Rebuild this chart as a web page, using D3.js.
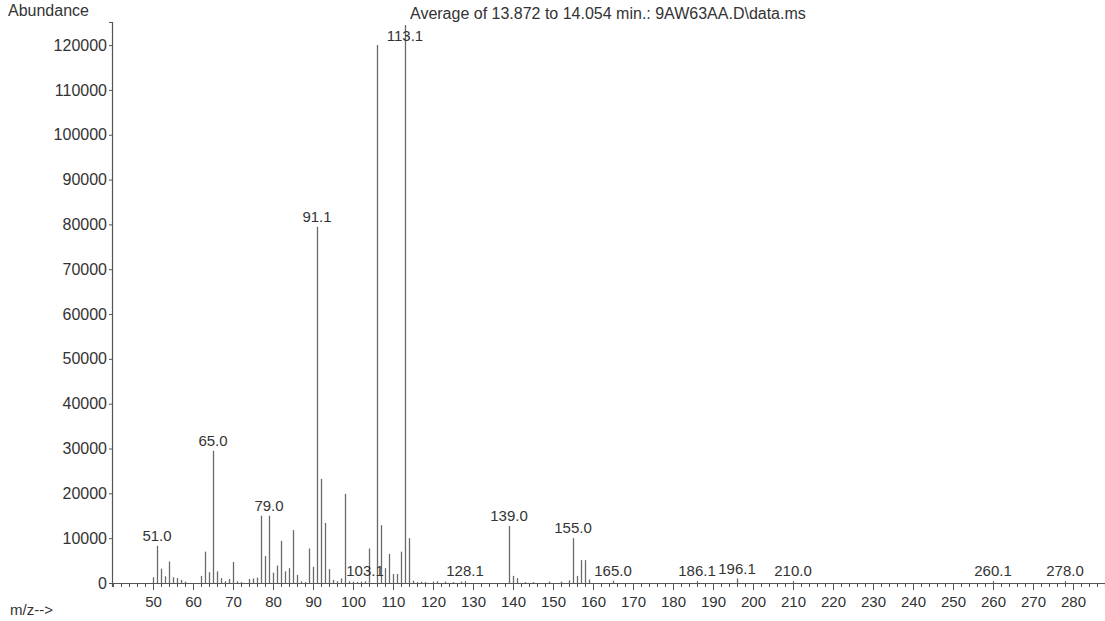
<!DOCTYPE html>
<html>
<head>
<meta charset="utf-8">
<script src="https://cdn.jsdelivr.net/npm/d3@7"></script>
<style>
  html, body { margin: 0; padding: 0; background: #ffffff; }
  svg { display: block; font-family: "Liberation Sans", Arial, sans-serif; }
</style>
</head>
<body>
<svg id="chart" width="1105" height="621"></svg>
<script>
// ---- data ----
const mzValues = [50,51,52,53,54,55,56,57,58,62,63,64,65,66,67,68,69,70,71,72,74,75,76,77,78,79,80,81,82,83,84,85,86,87,88,89,90,91,92,93,94,95,96,97,98,99,100,101,102,103,104,106,107,108,109,110,111,112,113,114,115,116,117,118,120,121,123,125,127,128,139,140,141,143,145,149,152,154,155,156,157,158,159,165,186,196,210,260,278];
const abundances = [1300,8300,3200,1500,4800,1300,1100,700,300,1600,7000,2400,29500,2600,1100,400,900,4700,400,200,900,1000,1200,15000,6000,15000,2300,3900,9400,2600,3300,11800,1800,400,200,7700,3600,79500,23200,13400,3100,700,400,1000,19900,400,300,200,300,400,7700,120000,12900,3300,6500,2000,2000,7000,124500,10000,500,200,300,200,300,400,300,200,300,400,12700,1600,1100,200,200,300,300,600,10000,1600,5100,5100,800,500,400,1000,400,400,400];
const peakLabelMz = [51,65,79,91,103,113,128,139,155,165,186,196,210,260,278];
const peakLabelText = ["51.0","65.0","79.0","91.1","103.1","113.1","128.1","139.0","155.0","165.0","186.1","196.1","210.0","260.1","278.0"];
const yTickValues = [0,10000,20000,30000,40000,50000,60000,70000,80000,90000,100000,110000,120000];
const xTickValues = [50,60,70,80,90,100,110,120,130,140,150,160,170,180,190,200,210,220,230,240,250,260,270,280];
const titleText = "Average of 13.872 to 14.054 min.: 9AW63AA.D\\data.ms";
const yAxisTitle = "Abundance";
const xAxisTitle = "m/z-->";

// ---- layout ----
const svg = d3.select("#chart");
const x = d3.scaleLinear().domain([39.75, 288]).range([112, 1105]);
const y = d3.scaleLinear().domain([0, 125150]).range([583, 22]);
const axisColor = "#555";
const peakColor = "#6a6a6a";
const textColor = "#333";

const peaks = mzValues.map((m, i) => ({ mz: m, v: abundances[i] }));

// peaks
svg.append("g").selectAll("line")
  .data(peaks).join("line")
  .attr("x1", d => x(d.mz) + 0.5).attr("x2", d => x(d.mz) + 0.5)
  .attr("y1", y(0)).attr("y2", d => y(d.v))
  .attr("stroke", peakColor).attr("stroke-width", 1.3);

// y axis
const yAxis = svg.append("g").attr("transform", `translate(${x(39.75)},0)`)
  .call(d3.axisLeft(y).tickValues(yTickValues).tickSize(3).tickPadding(2).tickFormat(d3.format("d")));
yAxis.select(".domain").attr("stroke", axisColor).attr("stroke-width", 1.2);
yAxis.selectAll(".tick line").attr("stroke", axisColor);
yAxis.selectAll(".tick text").attr("fill", textColor).style("font-size", "16px")
  .style("font-family", "'Liberation Sans', Arial, sans-serif");

// x axis: minor ticks every 2
const minorTicks = d3.range(40, 288, 2);
const xMinor = svg.append("g").attr("transform", `translate(0,${y(0)})`)
  .call(d3.axisBottom(x).tickValues(minorTicks).tickSize(4).tickFormat(""));
xMinor.select(".domain").attr("stroke", axisColor).attr("stroke-width", 1.2);
xMinor.selectAll(".tick line").attr("stroke", axisColor);

const xAxis = svg.append("g").attr("transform", `translate(0,${y(0)})`)
  .call(d3.axisBottom(x).tickValues(xTickValues).tickSize(7).tickPadding(6).tickFormat(d3.format("d")));
xAxis.select(".domain").remove();
xAxis.selectAll(".tick line").attr("stroke", axisColor);
xAxis.selectAll(".tick text").attr("fill", textColor).style("font-size", "15px")
  .style("font-family", "'Liberation Sans', Arial, sans-serif");

// peak labels
const labelData = peakLabelMz.map((m, i) => {
  const p = peaks.find(q => q.mz === m);
  return { mz: m, v: p ? p.v : 0, text: peakLabelText[i] };
});
svg.append("g").selectAll("text")
  .data(labelData).join("text")
  .attr("x", d => x(d.mz))
  .attr("y", d => Math.max(y(d.v) - 5, 41))
  .attr("text-anchor", "middle")
  .attr("fill", textColor)
  .style("font-size", "15px")
  .text(d => d.text);

// titles
svg.append("text").attr("x", 8).attr("y", 16).attr("fill", textColor)
  .style("font-size", "16px").text(yAxisTitle);
svg.append("text").attr("x", 410).attr("y", 19).attr("fill", textColor)
  .style("font-size", "16px").text(titleText);
svg.append("text").attr("x", 10).attr("y", 615).attr("fill", textColor)
  .style("font-size", "15px").text(xAxisTitle);
</script>
</body>
</html>
